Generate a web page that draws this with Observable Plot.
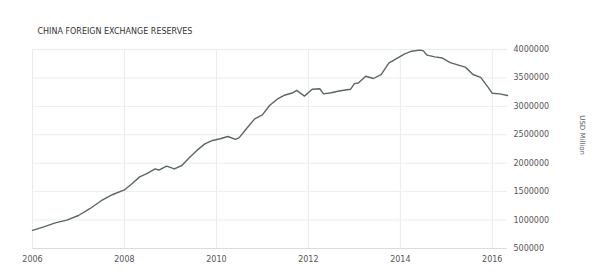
<!DOCTYPE html>
<html>
<head>
<meta charset="utf-8">
<script src="https://cdn.jsdelivr.net/npm/d3@7"></script>
<script src="https://cdn.jsdelivr.net/npm/@observablehq/plot@0.6"></script>
<style>
  html, body { margin: 0; padding: 0; background: #fff; }
  #chart svg { display: block; }
</style>
</head>
<body>
<div id="chart"></div>
<script>
const title = "CHINA FOREIGN EXCHANGE RESERVES";
const yLabel = "USD Million";
const dates = [
  "2006-01","2006-04","2006-07","2006-10","2007-01","2007-04","2007-07","2007-10",
  "2008-01","2008-03","2008-05","2008-07","2008-09","2008-10","2008-12",
  "2009-02","2009-04","2009-06","2009-08","2009-10","2009-12",
  "2010-02","2010-04","2010-06","2010-07","2010-09","2010-11",
  "2011-01","2011-03","2011-05","2011-07","2011-09","2011-10","2011-12",
  "2012-02","2012-04","2012-05","2012-07","2012-09","2012-12",
  "2013-01","2013-02","2013-04","2013-06","2013-08","2013-10","2013-12",
  "2014-02","2014-04","2014-06","2014-07","2014-08","2014-10","2014-12",
  "2015-02","2015-04","2015-06","2015-08","2015-10","2015-12",
  "2016-01","2016-03","2016-05"
];
const reserves = [
  820000, 880000, 950000, 1000000, 1080000, 1200000, 1340000, 1450000,
  1530000, 1640000, 1760000, 1820000, 1900000, 1880000, 1950000,
  1900000, 1960000, 2100000, 2230000, 2340000, 2400000,
  2430000, 2470000, 2420000, 2450000, 2620000, 2780000,
  2850000, 3020000, 3130000, 3200000, 3240000, 3280000, 3180000,
  3300000, 3310000, 3220000, 3240000, 3270000, 3300000,
  3400000, 3410000, 3530000, 3490000, 3560000, 3760000, 3840000,
  3920000, 3970000, 3990000, 3980000, 3900000, 3870000, 3850000,
  3770000, 3730000, 3690000, 3560000, 3510000, 3330000,
  3230000, 3220000, 3190000
];
const yTicks = [500000, 1000000, 1500000, 2000000, 2500000, 3000000, 3500000, 4000000];
const xTickYears = ["2006","2008","2010","2012","2014","2016"];

const parse = d3.utcParse("%Y-%m");
const parseY = d3.utcParse("%Y");
const data = dates.map((d, i) => ({date: parse(d), value: reserves[i]}));
const xTicks = xTickYears.map(parseY);

const chart = Plot.plot({
  width: 603,
  height: 274,
  marginTop: 49,
  marginBottom: 26,
  marginLeft: 32,
  marginRight: 96,
  style: {fontFamily: "'DejaVu Sans', sans-serif", fontSize: "8px", color: "#555", background: "#fff"},
  x: {type: "utc", domain: [parse("2006-01"), parse("2016-05")]},
  y: {domain: [500000, 4000000]},
  marks: [
    Plot.gridX(xTicks, {stroke: "#ebebeb", strokeOpacity: 1, y1: 500000, y2: 4000000}),
    Plot.gridY(yTicks, {stroke: "#ececec", strokeOpacity: 1}),
    Plot.ruleY([500000], {stroke: "#dcdcdc"}),
    Plot.axisX(xTicks, {tickSize: 0, tickPadding: 8, tickFormat: d3.utcFormat("%Y"), fill: "#555", label: null}),
    Plot.axisY(yTicks, {anchor: "right", tickSize: 0, tickPadding: 6, tickFormat: d3.format("d"), fill: "#555", label: null}),
    Plot.line(data, {x: "date", y: "value", stroke: "#5a6666", strokeWidth: 1.4, curve: "linear"}),
    Plot.text([title], {frameAnchor: "top-left", dx: 5, dy: -21, textAnchor: "start", fill: "#333", fontSize: 8}),
    Plot.text([yLabel], {frameAnchor: "right", dx: 75, dy: 6, rotate: 90, fill: "#555", fontSize: 7})
  ]
});
document.getElementById("chart").appendChild(chart);
</script>
</body>
</html>
